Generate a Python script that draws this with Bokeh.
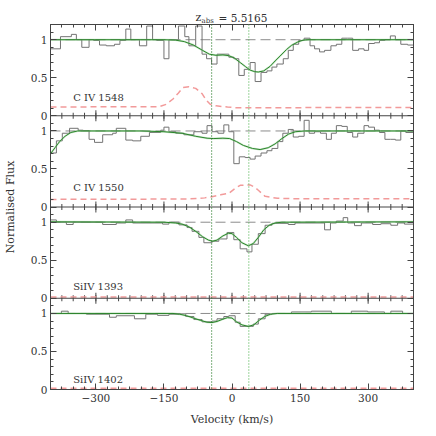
import numpy as np
from bokeh.plotting import figure
from bokeh.models import Range1d, FixedTicker, LinearAxis, Span, Label
from bokeh.layouts import column
from bokeh.embed import file_html
from bokeh.resources import INLINE

# ---------------- data ----------------
title_z = "z"
title_sub = "abs"
title_main = "= 5.5165"
x_label = "Velocity (km/s)"
y_label = "Normalised Flux"
ion_labels = ["C IV 1548", "C IV 1550", "SiIV 1393", "SiIV 1402"]
component_v = [-45, 37]

x_major = [-300, -150, 0, 150, 300]
x_major_text = ["\u2212300", "\u2212150", "0", "150", "300"]
x_minor = list(range(-400, 401, 25))
y_major = [0, 0.5, 1]
y_major_text = ["0", "0.5", "1"]
y_minor = [round(0.1 * i, 1) for i in range(13)]
panel_span = 1.2  # each panel shows flux 0 .. 1.2

# Panel 1: C IV 1548
p1_edges = [-400, -378, -354, -343, -331, -315, -305, -292, -277, -259, -247, -234, -223, -204, -188,
            -175, -166, -150, -139, -118, -104, -95, -80, -66, -56, -45, -33, -7, 4, 15, 27, 40, 51,
            64, 77, 88, 99, 113, 124, 135, 147, 159, 172, 182, 193, 204, 218, 230, 242, 255, 266, 279,
            291, 301, 314, 325, 337, 349, 360, 372, 387, 400]
p1_flux = [0.88, 1.04, 1.07, 1.00, 0.90, 1.00, 0.99, 0.93, 0.92, 0.94,
           0.99, 1.14, 1.00, 0.92, 1.18, 1.00, 0.99, 0.75, 1.00, 1.18,
           1.04, 0.92, 1.18, 0.81, 0.75, 0.68, 0.81, 0.77, 0.75, 0.53,
           0.61, 0.70, 0.45, 0.57, 0.59, 0.64, 0.68, 0.75, 0.86, 0.94,
           0.99, 1.02, 0.92, 0.88, 0.84, 0.86, 0.92, 0.94, 1.02, 1.02,
           0.86, 0.88, 0.86, 0.95, 0.96, 0.99, 1.00, 1.05, 1.00, 0.94, 0.93]
p1_model_v = [-400, -150, -125, -105, -85, -65, -50, -35, -20, -7, 5, 18, 30, 40, 50, 58, 70, 84, 95,
              106, 120, 131, 145, 157, 170, 400]
p1_model_f = [1.0, 1.0, 0.995, 0.975, 0.93, 0.86, 0.81, 0.795, 0.80, 0.79, 0.76, 0.70, 0.645, 0.60,
              0.58, 0.575, 0.59, 0.65, 0.72, 0.785, 0.87, 0.925, 0.97, 0.995, 1.0, 1.0]
p1_err_v = [-400, -160, -145, -130, -118, -108, -95, -80, -66, -56, -48, -35, -10, 10, 400]
p1_err_f = [0.115, 0.12, 0.15, 0.22, 0.30, 0.37, 0.38, 0.36, 0.29, 0.20, 0.15, 0.13, 0.115, 0.105, 0.11]

# Panel 2: C IV 1550
p2_edges = [-400, -387, -374, -358, -339, -328, -315, -303, -285, -263, -255, -234, -219, -201, -182,
            -157, -150, -139, -124, -106, -84, -66, -55, -44, -31, -18, -7, 4, 16, 29, 40, 51, 64, 77,
            88, 101, 112, 124, 135, 147, 159, 170, 182, 195, 208, 219, 230, 242, 254, 266, 277, 291,
            301, 314, 325, 337, 349, 360, 372, 383, 400]
p2_flux = [0.71, 0.87, 0.97, 1.035, 1.01, 1.005, 0.89, 0.85, 0.95, 0.97,
           1.035, 0.88, 0.87, 0.93, 0.98, 1.01, 1.05, 0.99, 0.97, 0.95,
           0.99, 0.97, 1.07, 0.99, 0.97, 1.08, 0.99, 0.57, 0.66, 0.65,
           0.63, 0.67, 0.71, 0.74, 0.77, 0.86, 0.97, 1.02, 0.92, 0.93,
           1.14, 0.97, 0.99, 0.97, 0.89, 0.97, 1.07, 1.06, 0.98, 0.92,
           0.97, 1.07, 1.05, 1.01, 0.98, 0.89, 0.89, 0.88, 1.00, 0.98]
p2_model_v = [-400, -390, -380, -368, -355, -340, -200, -150, -110, -80, -55, -40, -20, -5, 10, 25, 45,
              62, 80, 95, 110, 125, 140, 160, 400]
p2_model_f = [0.70, 0.78, 0.86, 0.93, 0.98, 1.0, 1.0, 0.99, 0.97, 0.93, 0.905, 0.90, 0.905, 0.90, 0.86,
              0.81, 0.77, 0.755, 0.78, 0.83, 0.90, 0.96, 0.99, 1.0, 1.0]
p2_err_v = [-400, -100, -60, -44, -25, -7, 7, 18, 40, 50, 58, 73, 100, 131, 400]
p2_err_f = [0.10, 0.105, 0.12, 0.135, 0.16, 0.18, 0.245, 0.285, 0.29, 0.26, 0.22, 0.14, 0.115, 0.11, 0.11]

# Panel 3: SiIV 1393
p3_edges = [-400, -387, -365, -350, -285, -255, -234, -219, -153, -139, -117, -99, -88, -73, -62, -44,
            -29, -11, 4, 18, 33, 44, 58, 73, 88, 124, 139, 204, 217, 230, 245, 255, 270, 285, 310, 328,
            350, 365, 380, 400]
p3_flux = [1.03, 1.0, 0.97, 1.0, 0.97, 0.99, 1.03, 0.99, 0.975, 1.0,
           0.965, 0.93, 0.88, 0.80, 0.73, 0.75, 0.78, 0.865, 0.77, 0.65,
           0.61, 0.71, 0.85, 0.96, 0.985, 0.97, 0.99, 0.90, 0.99, 1.015,
           1.06, 0.99, 0.955, 0.99, 0.97, 0.98, 0.96, 0.99, 0.975]
p3_model_v = [-400, -150, -125, -110, -95, -80, -65, -52, -43, -33, -20, -8, 0, 10, 22, 36, 47, 58, 70,
              82, 95, 110, 400]
p3_model_f = [1.005, 1.0, 0.99, 0.975, 0.94, 0.88, 0.81, 0.765, 0.75, 0.765, 0.82, 0.855, 0.85, 0.80,
              0.73, 0.69, 0.72, 0.80, 0.90, 0.96, 0.99, 1.0, 1.005]
p3_err_v = [-400, -200, 0, 200, 400]
p3_err_f = [0.015, 0.015, 0.018, 0.015, 0.015]

# Panel 4: SiIV 1402
p4_edges = [-400, -376, -361, -321, -270, -255, -215, -190, -164, -139, -117, -102, -84, -66, -44, -33,
            -18, -7, 7, 18, 47, 58, 73, 88, 131, 175, 219, 263, 299, 336, 350, 376, 400]
p4_flux = [1.0, 1.03, 1.0, 0.99, 0.95, 0.97, 0.93, 0.99, 0.975, 0.99,
           0.995, 0.96, 0.92, 0.89, 0.90, 0.93, 0.96, 0.97, 0.885, 0.83,
           0.86, 0.93, 0.99, 1.0, 1.02, 1.03, 1.0, 1.03, 1.02, 1.0, 1.03, 1.0]
p4_model_v = [-400, -130, -115, -100, -85, -70, -55, -44, -33, -20, -10, 0, 10, 22, 36, 48, 60, 72, 85,
              100, 400]
p4_model_f = [1.0, 1.0, 0.99, 0.97, 0.94, 0.91, 0.885, 0.88, 0.895, 0.925, 0.945, 0.94, 0.89, 0.85, 0.83,
              0.85, 0.91, 0.96, 0.99, 1.0, 1.0]
p4_err_v = [-400, -200, 0, 200, 400]
p4_err_f = [0.015, 0.015, 0.018, 0.015, 0.015]

panels = [
    (p1_edges, p1_flux, p1_model_v, p1_model_f, p1_err_v, p1_err_f),
    (p2_edges, p2_flux, p2_model_v, p2_model_f, p2_err_v, p2_err_f),
    (p3_edges, p3_flux, p3_model_v, p3_model_f, p3_err_v, p3_err_f),
    (p4_edges, p4_flux, p4_model_v, p4_model_f, p4_err_v, p4_err_f),
]
label_y = [0.24, 0.25, 0.15, 0.13]

# ---------------- styling ----------------
FONT = "DejaVu Serif"
TXT = "#333333"
AX = "#444444"
HIST = "#737373"
GREEN_DARK = "#2b842b"
GREEN_LIGHT = "#8ccc8c"
ERR = "#f29a9a"
VLINE_COLORS = ["#2a7d2a", "#5cb85c"]

W = 418
n = len(panels)
offsets = [round((n - 1 - i) * panel_span, 6) for i in range(n)]

# y ticks for every panel (labels repeat 0 / 0.5 / 1)
y_ticks, y_over, y_minor_all = [], {}, []
for off in offsets:
    for v, t in zip(y_major, y_major_text):
        key = round(off + v, 6)
        y_ticks.append(key)
        y_over[key] = t
    for v in y_minor:
        y_minor_all.append(round(off + v, 6))
x_over = {v: t for v, t in zip(x_major, x_major_text)}


def style_axis(ax, show_labels):
    ax.axis_line_color = AX
    ax.major_tick_line_color = AX
    ax.minor_tick_line_color = AX
    ax.major_tick_in = 6
    ax.major_tick_out = 0
    ax.minor_tick_in = 3
    ax.minor_tick_out = 0
    if show_labels:
        ax.major_label_text_font = FONT
        ax.major_label_text_font_size = "10.5px"
        ax.major_label_text_color = TXT
    else:
        ax.major_label_text_color = None
        ax.major_label_standoff = 0
    ax.axis_label_text_font = FONT
    ax.axis_label_text_font_size = "11px"
    ax.axis_label_text_font_style = "normal"
    ax.axis_label_text_color = TXT


p = figure(width=W, height=405, x_range=Range1d(-400, 400), y_range=Range1d(0, n * panel_span),
           output_backend="svg", toolbar_location=None,
           x_axis_location=None, y_axis_location=None,
           min_border_left=47, min_border_right=5, min_border_top=0, min_border_bottom=40)
p.grid.visible = False
p.outline_line_color = AX
p.background_fill_color = "white"
p.border_fill_color = "white"

bx = LinearAxis(ticker=FixedTicker(ticks=x_major, minor_ticks=x_minor))
style_axis(bx, True)
bx.major_label_overrides = x_over
bx.major_label_standoff = 4
bx.axis_label = x_label
bx.axis_label_standoff = 8
p.add_layout(bx, "below")

tx = LinearAxis(ticker=FixedTicker(ticks=x_major, minor_ticks=x_minor))
style_axis(tx, False)
p.add_layout(tx, "above")

ly = LinearAxis(ticker=FixedTicker(ticks=y_ticks, minor_ticks=y_minor_all))
style_axis(ly, True)
ly.major_label_overrides = y_over
ly.major_label_standoff = 3
ly.axis_label = y_label
ly.axis_label_standoff = 11
p.add_layout(ly, "left")

ry = LinearAxis(ticker=FixedTicker(ticks=y_ticks, minor_ticks=y_minor_all))
style_axis(ry, False)
p.add_layout(ry, "right")

# panel separators and the ticks that cross them
for off in offsets[:-1]:
    p.add_layout(Span(location=off, dimension="width", line_color=AX, line_width=1))
sep_levels = offsets[:-1]
mx = [x for x in x_minor for _ in sep_levels]
my = [lvl for _ in x_minor for lvl in sep_levels]
p.scatter(mx, my, marker="dash", angle=np.pi / 2, size=6, line_color=AX, line_width=1)
Mx = [x for x in x_major for _ in sep_levels]
My = [lvl for _ in x_major for lvl in sep_levels]
p.scatter(Mx, My, marker="dash", angle=np.pi / 2, size=11, line_color=AX, line_width=1)

for i, (edges, flux, mv, mf, ev, ef) in enumerate(panels):
    off = offsets[i]
    # continuum level
    p.add_layout(Span(location=off + 1, dimension="width", line_color="#8c8c8c",
                      line_dash="10 5", line_width=1, level="underlay"))
    # error spectrum
    p.line(ev, np.asarray(ef) + off, line_color=ERR, line_dash="6 4", line_width=1.5)
    # data histogram
    e = np.asarray(edges, dtype=float)
    f = np.asarray(flux, dtype=float) + off
    p.line(np.repeat(e, 2)[1:-1], np.repeat(f, 2), line_color=HIST, line_width=1)
    # model
    p.line(mv, np.asarray(mf) + off, line_color=GREEN_LIGHT, line_width=2, line_alpha=0.45)
    p.line(mv, np.asarray(mf) + off, line_color=GREEN_DARK, line_width=1)
    # ion label
    p.add_layout(Label(x=-350, y=off + label_y[i], text=ion_labels[i], text_font=FONT,
                       text_font_size="10px", text_color=TXT, text_baseline="middle",
                       text_align="left"))

# component velocities across all panels
for cv, col in zip(component_v, VLINE_COLORS):
    p.add_layout(Span(location=cv, dimension="height", line_color=col,
                      line_dash="1 2", line_width=1.2))

# title strip with subscript (its frame is aligned with the main frame, left edge at 47px)
hdr = figure(width=W, height=24, x_range=Range1d(0, 1), y_range=Range1d(0, 1),
             output_backend="svg", toolbar_location=None,
             x_axis_location=None, y_axis_location=None, min_border=0)
hdr.grid.visible = False
hdr.outline_line_color = None
hdr.add_layout(Label(x=145, y=7, x_units="screen", y_units="screen", text=title_z,
                     text_font=FONT, text_font_size="11px", text_color=TXT,
                     text_baseline="alphabetic", text_align="left"))
hdr.add_layout(Label(x=151, y=4, x_units="screen", y_units="screen", text=title_sub,
                     text_font=FONT, text_font_size="7px", text_color=TXT,
                     text_baseline="alphabetic", text_align="left"))
hdr.add_layout(Label(x=168, y=7, x_units="screen", y_units="screen", text=title_main,
                     text_font=FONT, text_font_size="10.5px", text_color=TXT,
                     text_baseline="alphabetic", text_align="left"))

layout = column(hdr, p)
open("out.html", "w").write(file_html(layout, INLINE))
